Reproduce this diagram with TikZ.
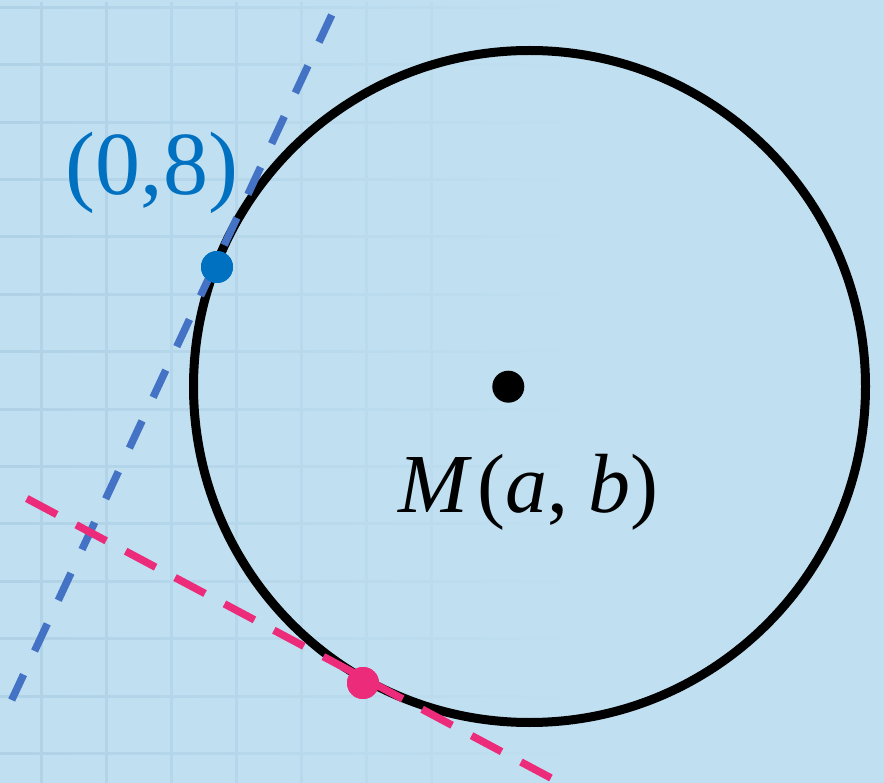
\documentclass[tikz,border=0pt]{standalone}
\usepackage{fontspec}
\setmainfont{Liberation Serif}
\usetikzlibrary{fadings}
\definecolor{bg}{RGB}{192,224,241}
\definecolor{gridc}{RGB}{176,210,231}
\definecolor{blueline}{RGB}{68,114,196}
\definecolor{bluept}{RGB}{0,112,192}
\definecolor{pinkc}{RGB}{236,44,122}
\tikzfading[name=gridfade, left color=transparent!0, right color=transparent!100]
\begin{document}
\begin{tikzpicture}[x=1pt,y=-1pt,
  dotstyle/.style={circle, inner sep=0pt, minimum size=32pt},
  tangentline/.style={line width=7.5pt},
  lbl/.style={inner sep=0pt, anchor=base}]
\useasboundingbox (0,0) rectangle (884,783);
\fill[bg] (0,0) rectangle (884,783);
% faint grid fading to the right
\path[draw=gridc, line width=3pt, path fading=gridfade]
  \foreach \x in {42,107,172,237,302,367,432} {(\x,0) -- (\x,783)}
  \foreach \y in {5.5,63,120.5,178,235.5,293,350.5,408,465.5,523,580.5,638,695.5,753} {(0,\y) -- (560,\y)};
% circle
\node[circle, draw=black, line width=9pt, minimum size=672pt, inner sep=0pt] (C) at (529.5,386.5) {};
% points
\node[dotstyle, fill=black] (M) at (508.3,386.7) {};
\node[dotstyle, fill=bluept] (P) at (217,267) {};
\node[dotstyle, fill=pinkc] (Q) at (363,683) {};
% tangent line end points
\coordinate (B1) at (331.7,15);
\coordinate (B2) at (11.7,700);
\coordinate (R1) at (26.8,498.5);
\coordinate (R2) at (551,778);
\draw[tangentline, blueline, dash pattern=on 30pt off 26pt] (B1) -- (B2);
\draw[tangentline, pinkc, dash pattern=on 34pt off 22pt] (R1) -- (R2);
% redraw points on top
\node[dotstyle, fill=bluept] at (P) {};
\node[dotstyle, fill=pinkc] at (Q) {};
% labels
\node[lbl, text=bluept, font=\fontsize{90}{90}\selectfont] (L1) at (152,195) {(0,8)};
\node[lbl, text=black, font=\fontsize{84}{84}\selectfont] (L2) at (528.5,512) {\textit{M}\kern5pt(\textit{a},\kern20pt\textit{b})};
\end{tikzpicture}
\end{document}
